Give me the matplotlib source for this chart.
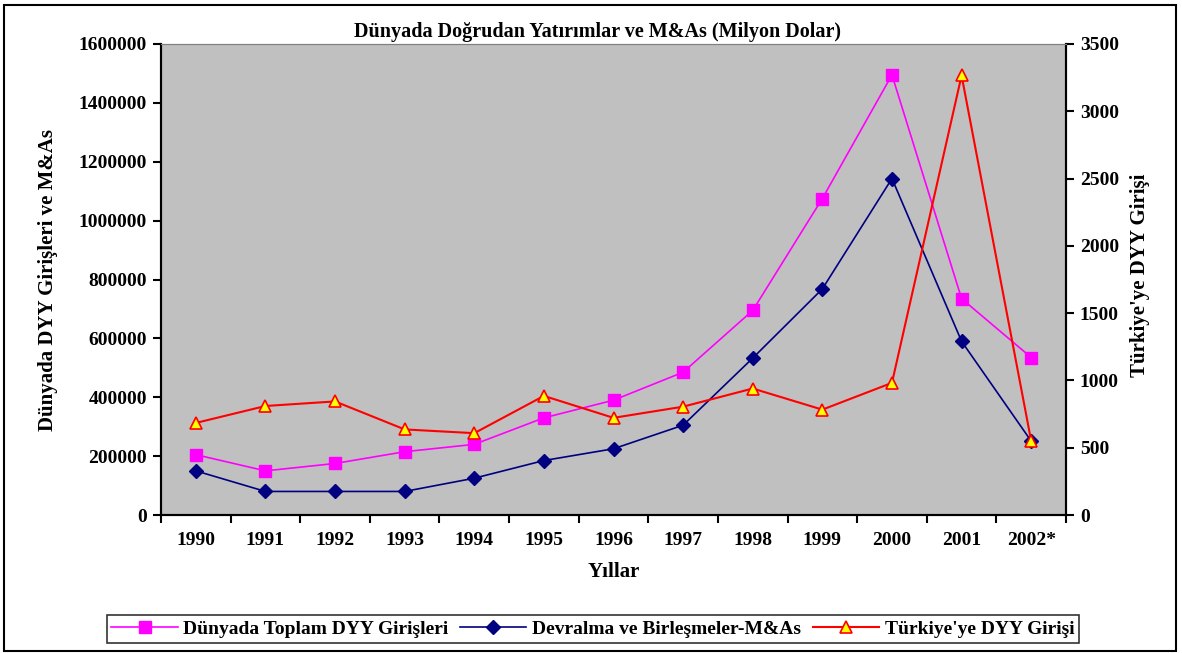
import numpy as np
import matplotlib.pyplot as plt
from matplotlib.patches import Rectangle

plt.rcParams['font.family'] = ['Liberation Serif', 'DejaVu Serif']
plt.rcParams['font.weight'] = 'bold'

# veriler
yillar = ['1990', '1991', '1992', '1993', '1994', '1995', '1996',
          '1997', '1998', '1999', '2000', '2001', '2002*']
dunya_toplam = [205000, 150000, 175000, 215000, 240000, 330000, 390000,
                485000, 695000, 1075000, 1495000, 735000, 535000]
devralma = [150000, 80000, 80000, 80000, 125000, 185000, 225000,
            305000, 533000, 768000, 1143000, 590000, 251000]
turkiye = [684, 810, 844, 636, 608, 885, 722, 805, 940, 783, 982, 3266, 550]

fig = plt.figure(figsize=(11.82, 6.53), dpi=100)
ax = fig.add_axes([161/1182, 1 - 515/653, (1066-161)/1182, (515-44)/653])
ax2 = ax.twinx()

x = np.arange(len(yillar))
l1, = ax.plot(x, dunya_toplam, color='#FF00FF', lw=1.2, marker='s', ms=8,
              mfc='#FF00FF', mec='#FF00FF', label='Dünyada Toplam DYY Girişleri')
l2, = ax.plot(x, devralma, color='#000080', lw=1.2, marker='D', ms=7,
              mfc='#000080', mec='#000080', label='Devralma ve Birleşmeler-M&As')
l3, = ax2.plot(x, turkiye, color='#FF0000', lw=1.5, marker='^', ms=9,
               mfc='#FFFF00', mec='#FF0000', mew=1.2, label="Türkiye'ye DYY Girişi")

ax.set_facecolor('#C0C0C0')
ax.set_xlim(-0.5, len(yillar) - 0.5)
ax.set_ylim(0, 1600000)
ax2.set_ylim(0, 3500)
ax.set_yticks(np.arange(0, 1600001, 200000))
ax.set_yticklabels([str(v) for v in range(0, 1600001, 200000)])
ax2.set_yticks(np.arange(0, 3501, 500))
ax2.set_yticklabels([str(v) for v in range(0, 3501, 500)])
ax.set_xticks(x)
ax.set_xticklabels(yillar)
ax.set_xticks(np.arange(-0.5, len(yillar)), minor=True)
ax.tick_params(axis='x', which='major', length=0, pad=12, labelsize=14)
ax.tick_params(axis='x', which='minor', length=6, width=1.5, direction='out')
ax.tick_params(axis='y', length=6, width=1.5, labelsize=14, pad=4)
ax2.tick_params(axis='y', length=6, width=1.5, labelsize=14, pad=4)
for a in (ax, ax2):
    for lab in a.get_yticklabels() + a.get_xticklabels():
        lab.set_fontweight('bold')
    a.spines['top'].set_color('#808080')
    a.spines['left'].set_linewidth(1.5)
    a.spines['right'].set_linewidth(1.5)
    a.spines['bottom'].set_linewidth(1.5)

fig.text(598/1182, 1 - 32/653, 'Dünyada Doğrudan Yatırımlar ve M&As (Milyon Dolar)',
         fontsize=14.5, fontweight='bold', ha='center', va='center')
fig.text(614/1182, 1 - 572/653, 'Yıllar', fontsize=15, fontweight='bold',
         ha='center', va='center')
fig.text(48/1182, 1 - 280/653, 'Dünyada DYY Girişleri ve M&As', fontsize=15,
         fontweight='bold', ha='center', va='center', rotation=90)
fig.text(1140/1182, 1 - 275/653, "Türkiye'ye DYY Girişi", fontsize=15,
         fontweight='bold', ha='center', va='center', rotation=90)

leg = fig.legend(handles=[l1, l2, l3], loc='center', bbox_to_anchor=(593/1182, 1 - 629/653),
                 ncol=3, frameon=True, fancybox=False, edgecolor='black',
                 fontsize=14, handlelength=3.4, columnspacing=0.6, handletextpad=0.3,
                 borderpad=0.25)
leg.get_frame().set_linewidth(1.2)
for t in leg.get_texts():
    t.set_fontweight('bold')

# cadre autour de la figure
fig.patches.append(Rectangle((4/1182, 2/653), 1172/1182, 646/653, transform=fig.transFigure,
                             fill=False, edgecolor='black', lw=1.5))

fig.savefig('out.png', dpi=100)
